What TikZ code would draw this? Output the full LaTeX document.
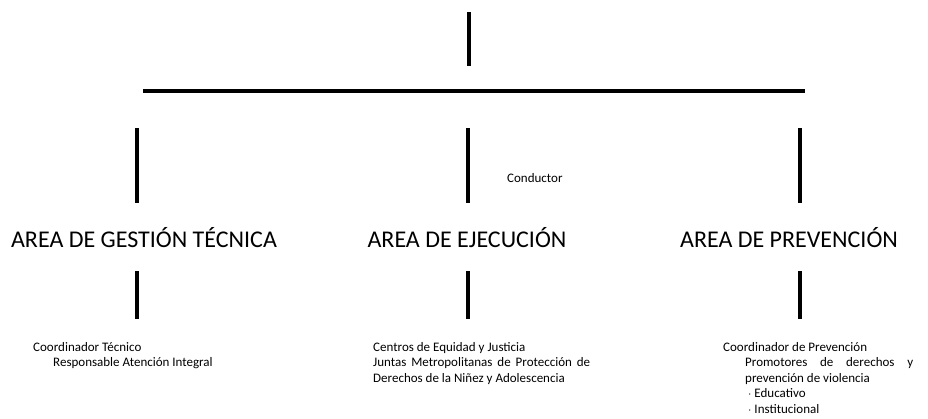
\documentclass[tikz,border=0pt]{standalone}
\usepackage{fontspec}
\setmainfont{Carlito}
\usetikzlibrary{positioning,calc}

\begin{document}
\begin{tikzpicture}[x=1pt,y=-1pt,
        area/.style={font=\fontsize{24}{26}\selectfont, inner sep=0pt},
        info/.style={font=\fontsize{13}{15.5}\selectfont, inner sep=0pt, align=left, anchor=north west},
        bar/.style={line width=4pt},
        hbar/.style={line width=4pt}
    ]
        \useasboundingbox (0,0) rectangle (928,418);

        % lineas del organigrama
        \coordinate (t1) at (469,12);
        \coordinate (t2) at (469,66);
        \coordinate (h1) at (143,91);
        \coordinate (h2) at (805,91);
        \draw[bar] (t1) -- (t2);
        \draw[hbar] (h1) -- (h2);

        \foreach \x/\n in {137/a, 468/b, 800/c} {
            \coordinate (\n1) at (\x,128);
            \coordinate (\n2) at (\x,203);
            \coordinate (\n3) at (\x,271);
            \coordinate (\n4) at (\x,319);
            \draw[bar] (\n1) -- (\n2);
            \draw[bar] (\n3) -- (\n4);
        }

        % areas
        \node[area] (gestion) at (144,238) {AREA DE GESTIÓN TÉCNICA};
        \node[area] (ejecucion) at (467,238) {AREA DE EJECUCIÓN};
        \node[area] (prevencion) at (789,238) {AREA DE PREVENCIÓN};

        \node[info, anchor=west] (conductor) at (507,178) {Conductor};

        % cargos
        \node[info] (cargosA) at (33,342) {Coordinador Técnico\\\hspace{20pt}Responsable Atención Integral};
        \node[info] (cargosB) at (373,342) {Centros de Equidad y Justicia\\\makebox[217pt][s]{Juntas Metropolitanas de Protección de}\\Derechos de la Niñez y Adolescencia};
        \node[info] (cargosC) at (723,342) {Coordinador de Prevención\\\hspace{22pt}\makebox[168pt][s]{Promotores de derechos y}\\\hspace{22pt}prevención de violencia\\\hspace{25pt}$\cdot$ Educativo\\\hspace{25pt}$\cdot$ Institucional};
    \end{tikzpicture}
\end{document}
